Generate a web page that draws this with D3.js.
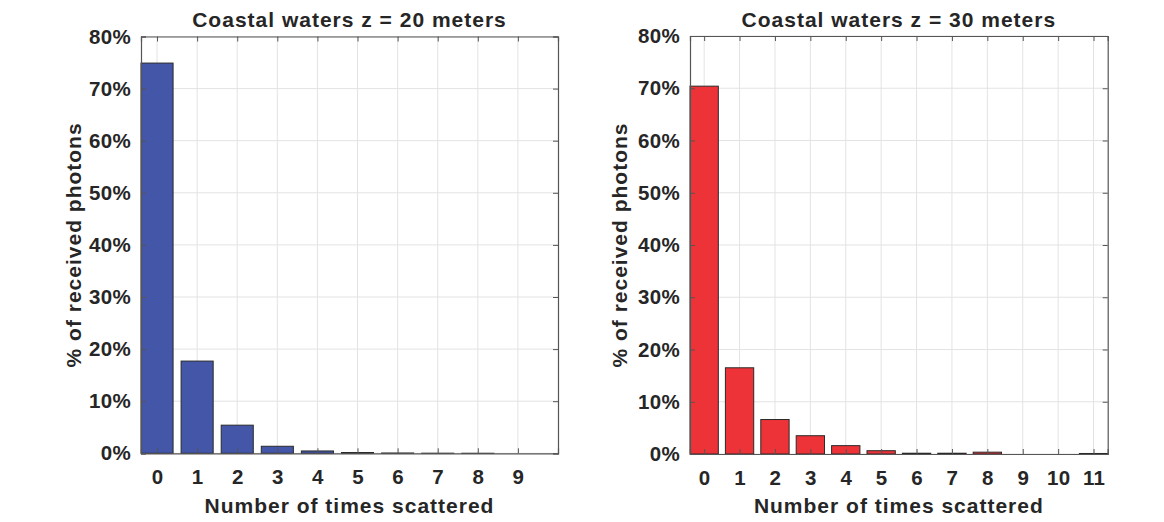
<!DOCTYPE html>
<html>
<head>
<meta charset="utf-8">
<script src="https://cdn.jsdelivr.net/npm/d3@7"></script>
<style>
  html, body { margin: 0; padding: 0; background: #fff; }
  svg { display: block; }
  text { font-family: "Liberation Sans", Arial, Helvetica, sans-serif; font-weight: bold; fill: #262626; }
</style>
</head>
<body>
<svg id="chart" width="1164" height="522"></svg>
<script>
// ---- data ----
const leftTitle = "Coastal waters z = 20 meters";
const rightTitle = "Coastal waters z = 30 meters";
const xLabel = "Number of times scattered";
const yLabel = "% of received photons";
const leftCategories = [0, 1, 2, 3, 4, 5, 6, 7, 8, 9];
const leftValues = [74.9, 17.7, 5.4, 1.35, 0.45, 0.15, 0.06, 0.02, 0.01, 0.0];
const rightCategories = [0, 1, 2, 3, 4, 5, 6, 7, 8, 9, 10, 11];
const rightValues = [70.4, 16.5, 6.6, 3.5, 1.6, 0.63, 0.15, 0.15, 0.35, 0.0, 0.0, 0.1];
const yTicks = [0, 10, 20, 30, 40, 50, 60, 70, 80];

const svg = d3.select("#chart");

function panel(cfg) {
  const x = d3.scaleLinear().domain(cfg.xDomain).range([cfg.left, cfg.right]);
  const y = d3.scaleLinear().domain([0, 80]).range([cfg.bottom, cfg.top]);
  const g = svg.append("g");

  // grid
  g.append("g").selectAll("line.h").data(yTicks).join("line")
    .attr("x1", cfg.left).attr("x2", cfg.right)
    .attr("y1", d => y(d)).attr("y2", d => y(d))
    .attr("stroke", "#e3e3e3").attr("stroke-width", 1);
  g.append("g").selectAll("line.v").data(cfg.cats).join("line")
    .attr("x1", d => x(d)).attr("x2", d => x(d))
    .attr("y1", cfg.top).attr("y2", cfg.bottom)
    .attr("stroke", "#e3e3e3").attr("stroke-width", 1);

  // bars
  g.append("g").selectAll("rect").data(cfg.cats).join("rect")
    .attr("x", d => x(d - 0.4))
    .attr("width", d => x(d + 0.4) - x(d - 0.4))
    .attr("y", (d, i) => y(cfg.vals[i]))
    .attr("height", (d, i) => y(0) - y(cfg.vals[i]))
    .attr("fill", cfg.color)
    .attr("stroke", "#2a2a2a").attr("stroke-width", 1);

  // axes
  const ax = g.append("g").attr("transform", `translate(0,${cfg.bottom})`)
    .call(d3.axisBottom(x).tickValues(cfg.cats).tickSize(-5).tickPadding(16).tickFormat(d3.format("d")));
  const axTop = g.append("g").attr("transform", `translate(0,${cfg.top})`)
    .call(d3.axisTop(x).tickValues(cfg.cats).tickSize(-5).tickFormat(""));
  const ay = g.append("g").attr("transform", `translate(${cfg.left},0)`)
    .call(d3.axisLeft(y).tickValues(yTicks).tickSize(-5).tickPadding(10).tickFormat(d => d + "%"));
  const ayR = g.append("g").attr("transform", `translate(${cfg.right},0)`)
    .call(d3.axisRight(y).tickValues(yTicks).tickSize(-5).tickFormat(""));
  [ax, axTop, ay, ayR].forEach(a => {
    a.select(".domain").attr("stroke", "#555").attr("stroke-width", 1.2);
    a.selectAll(".tick line").attr("stroke", "#555");
    a.selectAll("text").style("font-size", "20.5px").attr("fill", "#262626")
      .style("font-family", "'Liberation Sans', Arial, sans-serif").style("font-weight", "bold")
      .style("letter-spacing", "0.3px");
  });

  // titles
  const cx = (cfg.left + cfg.right) / 2;
  g.append("text").attr("x", cx).attr("y", 27).attr("text-anchor", "middle")
    .style("font-size", "21px").style("letter-spacing", "1px").text(cfg.title);
  g.append("text").attr("x", cx).attr("y", 513).attr("text-anchor", "middle")
    .style("font-size", "21px").style("letter-spacing", "1px").text(xLabel);
  g.append("text")
    .attr("transform", `translate(${cfg.ylabX},${(cfg.top + cfg.bottom) / 2}) rotate(-90)`)
    .attr("text-anchor", "middle")
    .style("font-size", "21px").style("letter-spacing", "1px").text(yLabel);
}

panel({ left: 141, right: 558, top: 36.5, bottom: 453.3, xDomain: [-0.4, 10],
        cats: leftCategories, vals: leftValues, color: "#4356A8", title: leftTitle, ylabX: 81 });
panel({ left: 690, right: 1107.7, top: 36, bottom: 454, xDomain: [-0.4, 11.4],
        cats: rightCategories, vals: rightValues, color: "#EE3338", title: rightTitle, ylabX: 627 });
</script>
</body>
</html>
